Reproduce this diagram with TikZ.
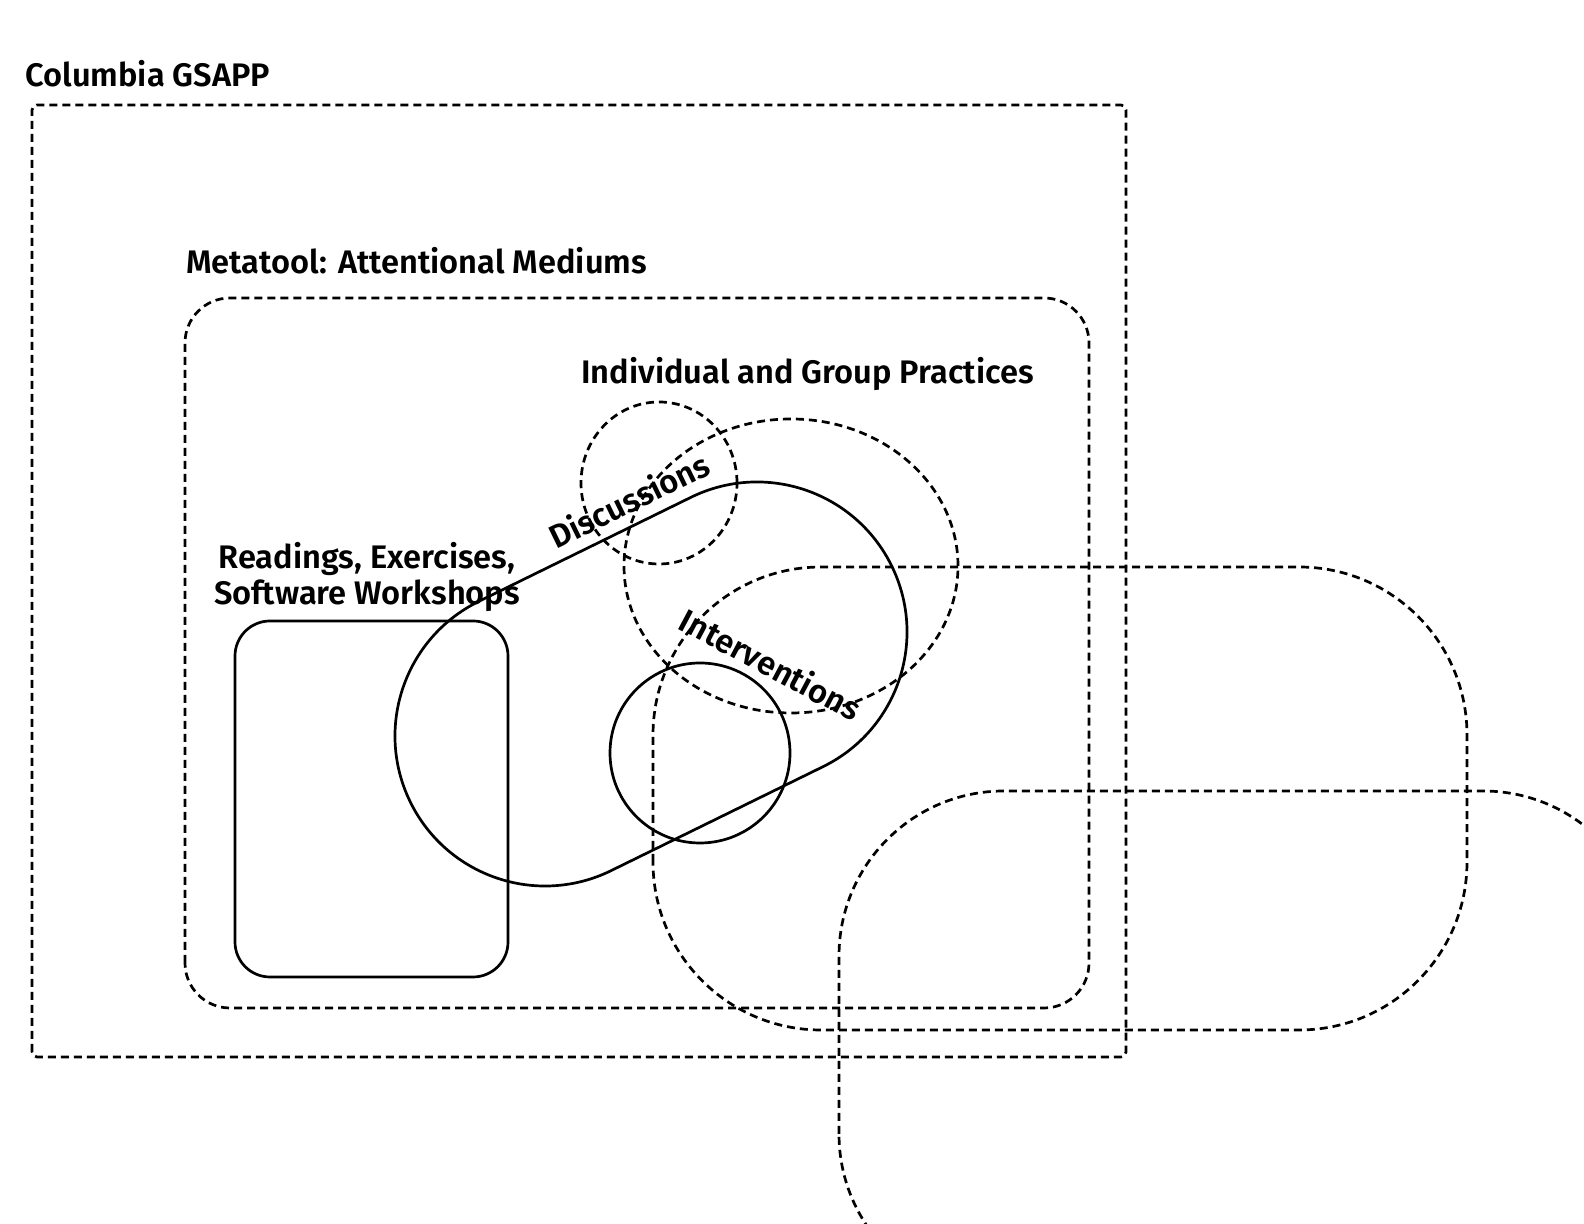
\documentclass[tikz,border=0pt]{standalone}
\usepackage{fontspec}
\setmainfont{Fira Sans SemiBold}
\usetikzlibrary{calc}
\begin{document}
\begin{tikzpicture}[x=0.5pt, y=0.5pt, line join=round,
    dashline/.style={line width=1.35pt, dash pattern=on 4pt off 2.5pt},
    solidline/.style={line width=1.35pt, line cap=round},
    lbl/.style={inner sep=0pt, font=\fontsize{16.3}{18.2}\selectfont}]
\useasboundingbox (0,0) rectangle (1584,1224);
\clip (0,0) rectangle (1584,1224);
% frames
\draw[dashline, rounded corners=2.5pt] (32,167) rectangle (1126,1119);
\draw[dashline, rounded corners=22.5pt] (185,216) rectangle (1089,926);
\draw[dashline, rounded corners=84pt] (653,194) rectangle (1467,657);
\draw[dashline, rounded corners=82.5pt] (839,-75) rectangle (1648,433);
% practices
\foreach \cx/\cy/\rx/\ry in {659/741/78/81, 791/658/167/147}
    \draw[dashline] (\cx,\cy) ellipse [x radius=\rx, y radius=\ry];
\draw[solidline, rounded corners=17.5pt] (235,247) rectangle (508,603);
\draw[solidline] (700,471) circle (90);
\coordinate (c1) at (545,488);
\coordinate (c2) at (757,592);
\draw[solidline] ($(c1)+(116.13:150)$) -- ($(c2)+(116.13:150)$) arc[start angle=116.13, end angle=-63.87, radius=150]
    -- ($(c1)+(-63.87:150)$) arc[start angle=-63.87, end angle=-243.87, radius=150] -- cycle;
% labels
\node[lbl, anchor=base west] (gsapp) at (25,1137) {Columbia GSAPP};
\node[lbl, anchor=base west] (meta) at (186,950) {Metatool: Attentional Mediums};
\node[lbl, anchor=base west] (practices) at (581,840) {Individual and Group Practices};
\node[lbl, anchor=base, align=center] (readings) at (367,619) {Readings, Exercises,\\Software Workshops};
\node[lbl, rotate=26] (discussions) at (629,724) {Discussions};
\node[lbl, rotate=-28] (interventions) at (771,560) {Interventions};
\end{tikzpicture}
\end{document}
